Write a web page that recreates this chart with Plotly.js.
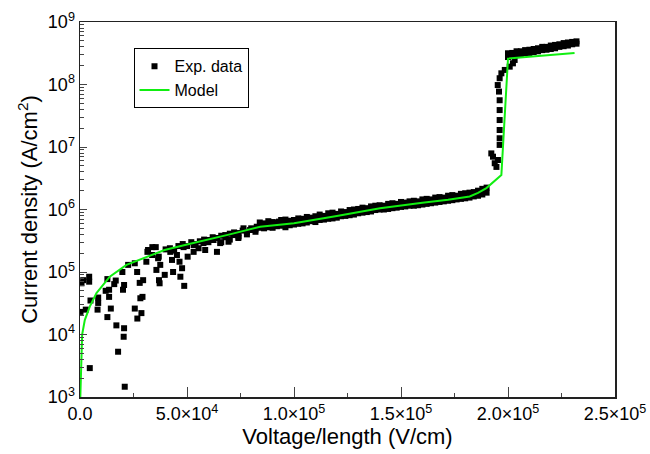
<!DOCTYPE html>
<html>
<head>
<meta charset="utf-8">
<script src="https://cdn.plot.ly/plotly-3.0.1.min.js"></script>
<style>html,body{margin:0;padding:0;background:#fff;}#chart{width:650px;height:454px;}</style>
</head>
<body>
<div id="chart"></div>
<script>
// ---- Experimental data: low-field scattered cluster (V/cm, A/cm^2)
var lowX = [700,1490,4290,4290,230,2700,4900,4570,12800,12000,13600,13600,8500,8500,8200,14400,12800,16000,16700,20100,19800,20600,22500,17000,20600,20400,17800,20900,25600,26700,27900,29500,28200,29200,25600,26800,28700,31000,31500,33800,35400,31800,36500,35700,36900,37200,39600,33700,36800,37500,42200,43000,43500,45300,46500,47700,46900,48700,48400,50300,53100,53100,55400,57700,58500,60100,62400,64000,65500,67900,69400,71700,74100,76400,79500,82600];
var lowY = [6.6e4,7.4e4,8.4e4,7.0e4,2.3e4,2.5e4,3.5e4,2.9e3,7.7e4,5.0e4,5.2e4,4.0e4,3.9e4,3.2e4,2.5e4,2.6e4,1.9e4,6.4e4,7.3e4,5.2e4,1.0e5,6.2e4,1.3e5,1.4e4,1.26e4,9.2e3,5.3e3,1.46e3,1.38e5,1.0e5,6.7e4,7.4e4,3.8e4,4.0e4,2.6e4,1.8e4,2.2e4,1.46e5,2.1e5,2.5e5,2.5e5,2.25e5,1.66e5,1.08e5,7.4e4,6.6e4,9.0e4,1.87e5,1.76e5,1.3e5,2.1e5,1.56e5,1.0e5,1.87e5,1.46e5,1.15e5,8.4e4,6.0e4,2.5e5,1.76e5,2.1e5,2.7e5,2.4e5,2.9e5,2.25e5,3.25e5,3.25e5,2.1e5,2.9e5,3.9e5,3.05e5,3.9e5,3.7e5,5.0e5,4.7e5,5.3e5];

// ---- mid-field band fill
var midX = [40000,42000,44000,46000,48000,50000,52000,54000,56000,58000,60000,62000,64000,66000,68000,70000,72000,74000,76000,78000,80000,82000,66000,70000,74000,78000,82000];
var midY = [2.3e5,2.4e5,2.2e5,2.6e5,2.8e5,2.6e5,3.0e5,2.8e5,3.1e5,3.3e5,3.0e5,3.6e5,3.5e5,3.8e5,3.6e5,4.1e5,4.3e5,4.2e5,4.6e5,4.4e5,5.0e5,4.8e5,3.0e5,3.3e5,3.5e5,4.0e5,4.4e5];

// ---- dense band (upper and lower rows share x)
var bandX = [84000,86000,88000,90000,92000,94000,96000,98000,100000,102000,104000,106000,108000,110000,112000,114000,116000,118000,120000,122000,124000,126000,128000,130000,132000,134000,136000,138000,140000,142000,144000,146000,148000,150000,152000,154000,156000,158000,160000,162000,164000,166000,168000,170000,172000,174000,176000,178000,180000,182000,184000,186000,188000,190000];
var bandUpperY = [6.2e5,6.0e5,6.5e5,6.3e5,6.2e5,6.8e5,6.9e5,6.6e5,6.8e5,7.2e5,7.1e5,7.6e5,7.4e5,7.8e5,8.3e5,7.9e5,8.7e5,8.9e5,8.5e5,9.3e5,9.1e5,9.8e5,1.0e6,1.02e6,1.07e6,1.05e6,1.12e6,1.15e6,1.17e6,1.15e6,1.23e6,1.26e6,1.23e6,1.32e6,1.29e6,1.35e6,1.38e6,1.35e6,1.45e6,1.48e6,1.45e6,1.55e6,1.58e6,1.55e6,1.66e6,1.70e6,1.66e6,1.78e6,1.82e6,1.86e6,1.9e6,2.0e6,2.14e6,2.24e6];
var bandLowerY = [5.1e5,5.0e5,5.2e5,5.1e5,5.4e5,5.5e5,5.2e5,5.6e5,5.75e5,5.9e5,6.0e5,6.2e5,6.5e5,6.3e5,6.8e5,6.9e5,7.1e5,7.2e5,7.4e5,7.8e5,7.9e5,8.1e5,8.3e5,8.7e5,8.9e5,9.1e5,9.3e5,9.8e5,1.0e6,1.0e6,1.02e6,1.05e6,1.07e6,1.10e6,1.12e6,1.15e6,1.15e6,1.17e6,1.20e6,1.23e6,1.26e6,1.29e6,1.32e6,1.35e6,1.38e6,1.41e6,1.45e6,1.48e6,1.51e6,1.55e6,1.62e6,1.66e6,1.74e6,1.86e6];
var bandMidX = [85000,87000,89000,91000,93000,95000,97000,99000,101000,103000,105000,107000,109000,111000,113000,115000,117000,119000,121000,123000,125000,127000,129000,131000,133000,135000,137000,139000,141000,143000,145000,147000,149000,151000,153000,155000,157000,159000,161000,163000,165000,167000,169000,171000,173000,175000,177000,179000,181000,183000,185000,187000,189000];
var bandMidY = [5.8e5,5.6e5,6.0e5,5.9e5,6.4e5,6.0e5,6.3e5,6.4e5,6.3e5,6.9e5,6.5e5,7.2e5,6.8e5,7.5e5,7.3e5,7.6e5,8.0e5,7.9e5,8.4e5,8.5e5,8.6e5,9.2e5,9.0e5,9.6e5,9.7e5,1.0e6,1.03e6,1.06e6,1.08e6,1.1e6,1.12e6,1.16e6,1.15e6,1.21e6,1.2e6,1.26e6,1.24e6,1.3e6,1.33e6,1.35e6,1.38e6,1.42e6,1.44e6,1.47e6,1.5e6,1.55e6,1.57e6,1.62e6,1.68e6,1.74e6,1.8e6,1.9e6,2.0e6];

// ---- breakdown jump
var jumpX = [192200,193000,193800,194600,195300,196100,196100,196100,196100,196100,196100,195800,195200,196100,196900,198500,200800,202300,203100];
var jumpY = [7.9e6,7.0e6,5.5e6,4.8e6,6.2e6,1.08e7,1.38e7,1.87e7,2.7e7,3.9e7,5.6e7,7.7e7,9.8e7,1.26e8,1.51e8,1.71e8,1.93e8,2.18e8,2.47e8];

// ---- high-current plateau (upper and lower rows)
var highX = [200000,202000,204000,206000,208000,210000,212000,214000,216000,218000,220000,222000,224000,226000,228000,230000,232000];
var highUpperY = [3.16e8,3.2e8,3.4e8,3.4e8,3.55e8,3.6e8,3.7e8,3.8e8,4.0e8,4.0e8,4.2e8,4.3e8,4.4e8,4.6e8,4.7e8,4.8e8,4.9e8];
var highLowerY = [2.75e8,2.9e8,2.95e8,3.0e8,3.16e8,3.2e8,3.3e8,3.4e8,3.55e8,3.6e8,3.7e8,3.8e8,4.0e8,4.1e8,4.2e8,4.4e8,4.5e8];

// ---- Model curve
var modelX = [150,500,1000,2240,4570,7700,13900,21700,29500,39500,50000,60000,70000,84200,100000,120000,140200,160000,172000,182100,186000,189900,196900,200000,231100];
var modelY = [1.0e3,3.0e3,1.0e4,1.7e4,2.8e4,4.6e4,8.4e4,1.3e5,1.66e5,2.25e5,2.75e5,3.3e5,4.0e5,5.3e5,6.05e5,7.9e5,1.05e6,1.28e6,1.43e6,1.62e6,1.85e6,2.2e6,3.56e6,2.6e8,3.2e8];

// ---- tick labels
var xTickVals = [0,50000,100000,150000,200000,250000];
var xTickText = ['0.0','5.0×10<sup>4</sup>','1.0×10<sup>5</sup>','1.5×10<sup>5</sup>','2.0×10<sup>5</sup>','2.5×10<sup>5</sup>'];
var yTickVals = [1e3,1e4,1e5,1e6,1e7,1e8,1e9];
var yTickText = ['10<sup>3</sup>','10<sup>4</sup>','10<sup>5</sup>','10<sup>6</sup>','10<sup>7</sup>','10<sup>8</sup>','10<sup>9</sup>'];

var expX = [].concat(lowX, midX, bandX, bandMidX, bandX, jumpX, highX, highX);
var expY = [].concat(lowY, midY, bandUpperY, bandMidY, bandLowerY, jumpY, highUpperY, highLowerY);

var FONT = 'Liberation Sans, Arial, Helvetica, sans-serif';

var traces = [
  {x: expX, y: expY, type: 'scatter', mode: 'markers', name: 'Exp. data',
   marker: {symbol: 'square', size: 6, color: '#000000', line: {width: 0}}},
  {x: modelX, y: modelY, type: 'scatter', mode: 'lines', name: 'Model',
   line: {color: '#11ee11', width: 2}}
];

var layout = {
  width: 650, height: 454,
  margin: {l: 80, r: 35, t: 22, b: 57},
  paper_bgcolor: '#ffffff', plot_bgcolor: '#ffffff',
  font: {family: FONT, color: '#000000', size: 18},
  showlegend: true,
  legend: {x: 0.1, y: 0.93, xanchor: 'left', yanchor: 'top',
           bgcolor: '#ffffff', bordercolor: '#000000', borderwidth: 1,
           font: {family: FONT, size: 16, color: '#000000'},
           tracegroupgap: 0, itemwidth: 30},
  xaxis: {
    range: [0, 250000], showgrid: false, zeroline: false,
    showline: true, linecolor: '#222222', linewidth: 1.5, mirror: true,
    ticks: 'inside', ticklen: 10, tickwidth: 1, tickcolor: '#444444',
    tickvals: xTickVals, ticktext: xTickText,
    tickfont: {family: FONT, size: 18, color: '#000000'},
    minor: {ticks: 'inside', ticklen: 4, tickwidth: 1, tickcolor: '#444444', dtick: 25000, showgrid: false},
    title: {text: 'Voltage/length (V/cm)', font: {family: FONT, size: 22, color: '#000000'}, standoff: 4}
  },
  yaxis: {
    type: 'log', range: [3, 9], showgrid: false, zeroline: false,
    showline: true, linecolor: '#222222', linewidth: 1.5, mirror: true,
    ticks: 'inside', ticklen: 7, tickwidth: 1, tickcolor: '#444444',
    tickvals: yTickVals, ticktext: yTickText,
    tickfont: {family: FONT, size: 18, color: '#000000'},
    minor: {ticks: 'inside', ticklen: 4, tickwidth: 1, tickcolor: '#444444', dtick: 'D1', showgrid: false},
    title: {text: 'Current density (A/cm<sup>2</sup>)', font: {family: FONT, size: 22, color: '#000000'}, standoff: 4}
  }
};

Plotly.newPlot('chart', traces, layout, {displayModeBar: false, staticPlot: true});
</script>
</body>
</html>
